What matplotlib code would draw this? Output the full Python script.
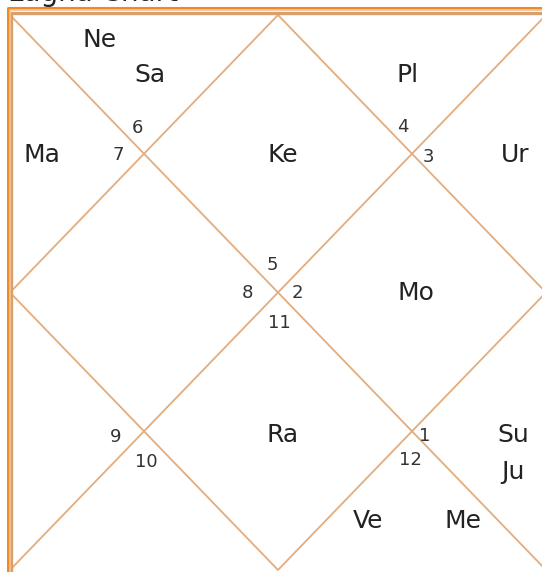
import matplotlib
matplotlib.use('Agg')
import matplotlib.pyplot as plt

# %% chart data: house 1..12
house_signs = [5, 6, 7, 8, 9, 10, 11, 12, 1, 2, 3, 4]
house_planets = [['Ke'], ['Ne', 'Sa'], ['Ma'], [], [], [], ['Ra'],
                 ['Ve', 'Me'], ['Su', 'Ju'], ['Mo'], ['Ur'], ['Pl']]

# %% layout (pixel coords)
W, H = 542, 572
x0, y0, x1, y1 = 10, 15, 546, 570
cx, cy = (x0 + x1) / 2, (y0 + y1) / 2

sign_pos = [(272, 265), (137, 128), (118, 155), (247, 293), (116, 437), (146, 462),
            (279, 323), (410, 460), (425, 436), (297, 293), (428, 157), (403, 127)]
planet_pos = [[(283, 155)], [(100, 40), (150, 75)], [(42, 155)], [], [], [],
              [(283, 435)], [(368, 521), (463, 521)], [(513, 435), (513, 472)],
              [(416, 293)], [(515, 155)], [(408, 75)]]

fig = plt.figure(figsize=(W / 100, H / 100), dpi=100)
ax = fig.add_axes([0, 0, 1, 1])
ax.set_xlim(0, W)
ax.set_ylim(H, 0)
ax.axis('off')

line_c = '#e3ac7d'
# diagonals
ax.plot([x0, x1], [y0, y1], color=line_c, lw=1.3)
ax.plot([x0, x1], [y1, y0], color=line_c, lw=1.3)
# diamond
ax.plot([cx, x1, cx, x0, cx], [y0, cy, y1, cy, y0], color=line_c, lw=1.3)

# border: outer orange, inner tan
ax.plot([x0 - 2, x0 - 2, x1 + 2], [y1 + 5, y0 - 7, y0 - 7], color='#f08a24', lw=2.2, solid_capstyle='butt')
ax.plot([x0 + 1, x0 + 1, x1 + 2], [y1 + 5, y0 - 2.5, y0 - 2.5], color='#d9a06e', lw=2.4, solid_capstyle='butt')
ax.plot([x0 - 0.5, x0 - 0.5, x1 + 2], [y1 + 5, y0 - 5, y0 - 5], color='#f3c59c', lw=1.2, solid_capstyle='butt')

# title, mostly cut off at the top edge as in the source
ax.text(8, 1.0, 'Lagna Chart', fontsize=20, color='#222222', ha='left', va='baseline')

for sign, (sx, sy) in zip(house_signs, sign_pos):
    ax.text(sx, sy, str(sign), fontsize=13, color='#333333', ha='center', va='center')

for planets, pos in zip(house_planets, planet_pos):
    for p, (px, py) in zip(planets, pos):
        ax.text(px, py, p, fontsize=18, color='#222222', ha='center', va='center')

fig.savefig('out.png', dpi=100)
